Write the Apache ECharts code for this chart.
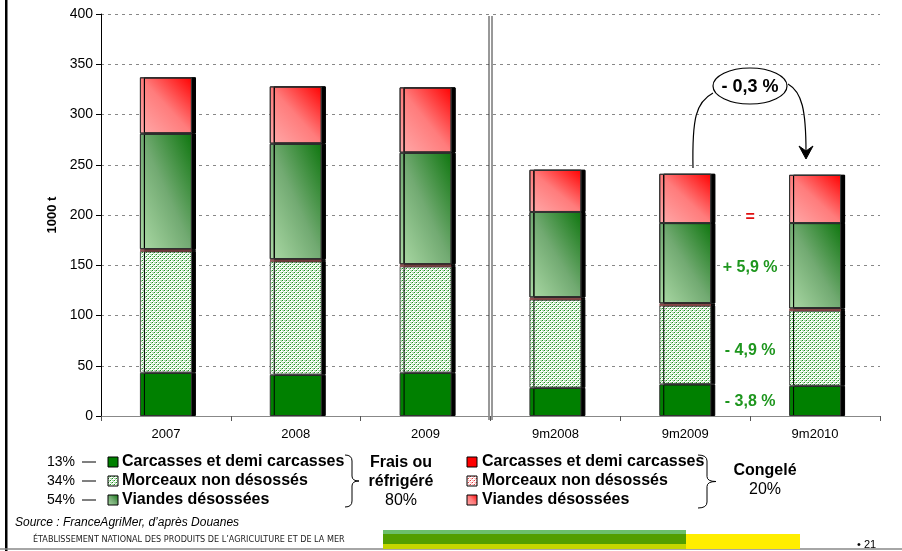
<!DOCTYPE html>
<html><head><meta charset="utf-8">
<script src="https://cdn.jsdelivr.net/npm/echarts@6/dist/echarts.min.js"></script>
<style>html,body{margin:0;padding:0;background:#fff}#c{width:902px;height:551px}</style>
</head><body><div id="c"></div>
<script>
const categories = ['2007','2008','2009','9m2008','9m2009','9m2010'];
const carcFrais  = [43, 41, 43, 28, 31.5, 30];
const morcFrais  = [121, 113, 106, 88, 78.5, 75];
const carcCong   = [0.5, 0.5, 0.5, 0.5, 0.5, 0.5];
const morcCong   = [1.5, 1.5, 1.5, 1.5, 1.5, 1.5];
const viandFrais = [115, 115, 111, 85, 80, 85];
const viandCong  = [56, 57, 65, 42, 49, 48];
const itemNames  = ['Carcasses et demi carcasses','Morceaux non désossés','Viandes désossées'];
const fraisShares = ['13%','34%','54%'];
const groupFrais = ['Frais ou','réfrigéré','80%'];
const groupCong  = ['Congelé','20%'];
const sourceText = 'Source : FranceAgriMer, d\u2019après Douanes';
const footerText = 'ÉTABLISSEMENT NATIONAL DES PRODUITS DE L\u2019AGRICULTURE ET DE LA MER';
const pageNum = '• 21';
const changes = [
  {text:'=', value:197, color:'#e01010'},
  {text:'+ 5,9 %', value:147.5, color:'#1e961e'},
  {text:'- 4,9 %', value:65, color:'#1e961e'},
  {text:'- 3,8 %', value:14.5, color:'#1e961e'}
];
const totalChange = '- 0,3 %';

const FONT = '"Liberation Sans", Arial, sans-serif';

function pattern(bg, light, dark){
  const c = document.createElement('canvas'); c.width = 4; c.height = 4;
  const g = c.getContext('2d');
  g.fillStyle = bg; g.fillRect(0,0,4,4);
  g.fillStyle = light; g.fillRect(0,0,2,1); g.fillRect(2,2,2,1); g.fillRect(1,1,1,1); g.fillRect(3,3,1,1);
  g.fillStyle = dark; g.fillRect(0,2,1,1); g.fillRect(2,0,1,1);
  return c;
}
const greenPat = {image: pattern('#ffffff','#a9d9a9','#1a8f1a'), repeat:'repeat'};
const pinkPat = {image: pattern('#ffffff','#ffc0c0','#e04040'), repeat:'repeat'};
const BAR_W = 52, PX_PER_UNIT = 402/400;
// box-diagonal gradient: light at bottom-left corner, dark at top-right corner,
// isolines parallel to the top-left / bottom-right diagonal
function diagGrad(value, stops){
  const H = Math.max(value*PX_PER_UNIT, 1), W = BAR_W, n2 = H*H + W*W;
  return new echarts.graphic.LinearGradient(0, 1, 2*H*H/n2, 1 - 2*W*W/n2, stops);
}
const greenStops = [{offset:0,color:'#acdaa6'},{offset:0.5,color:'#72aa72'},{offset:1,color:'#0e760e'}];
const redStops = [{offset:0,color:'#ffaaaa'},{offset:0.5,color:'#ff7c7c'},{offset:1,color:'#ff0000'}];
const greenGrad = diagGrad(52, greenStops);
const redGrad = diagGrad(52, redStops);

const colors = {cf:'#008000', mf:greenPat, cc:'#ff0000', mc:pinkPat, vf:greenGrad, vc:redGrad};
function mkSeries(name, data, color, border, stops){
  return {
    name, type:'bar', stack:'t', barWidth:BAR_W,
    data: stops ? data.map(v=>({value:v, itemStyle:{color:diagGrad(v, stops)}})) : data,
    itemStyle:{color, borderColor:border||'#333', borderWidth:1, shadowColor:'#000', shadowOffsetX:4, shadowOffsetY:0, shadowBlur:0},
    emphasis:{disabled:true}, animation:false
  };
}

const chart = echarts.init(document.getElementById('c'));
chart.setOption({
  animation:false,
  grid:{left:101, right:22, top:14, bottom:135},
  xAxis:{type:'category', data:categories,
    axisLine:{lineStyle:{color:'#888', width:1}},
    axisTick:{show:true, length:5, lineStyle:{color:'#555'}},
    axisLabel:{color:'#000', fontSize:13, fontFamily:FONT, margin:12}},
  yAxis:{type:'value', min:0, max:400, interval:50,
    name:'1000 t', nameLocation:'middle', nameGap:40, nameRotate:90,
    nameTextStyle:{fontWeight:'bold', fontSize:13, fontFamily:FONT, color:'#000'},
    axisLine:{show:true, lineStyle:{color:'#000'}},
    axisTick:{show:true, length:5, lineStyle:{color:'#000'}},
    axisLabel:{color:'#000', fontSize:14, fontFamily:FONT, margin:8},
    splitLine:{lineStyle:{color:'#888', type:[3,4]}}},
  series:[
    mkSeries('Frais - '+itemNames[0], carcFrais, colors.cf),
    mkSeries('Frais - '+itemNames[1], morcFrais, colors.mf, '#555'),
    mkSeries('Congelé - '+itemNames[0], carcCong, colors.cc, '#8a4a4a'),
    mkSeries('Congelé - '+itemNames[1], morcCong, colors.mc, '#8a4a4a'),
    mkSeries('Frais - '+itemNames[2], viandFrais, colors.vf, '#333', greenStops),
    mkSeries('Congelé - '+itemNames[2], viandCong, colors.vc, '#333', redStops)
  ]
});

const g = [];
const S = (o)=>Object.assign({fill:null, stroke:'#000', lineWidth:1}, o||{});
g.push({type:'rect', shape:{x:5,y:0,width:2.5,height:551}, style:{fill:'#000'}, silent:true});
g.push({type:'line', shape:{x1:0,y1:549,x2:902,y2:549}, style:{stroke:'#888', lineWidth:1.5}, silent:true});
const p2 = chart.convertToPixel({xAxisIndex:0}, 2), p3 = chart.convertToPixel({xAxisIndex:0}, 3);
const sx = (p2+p3)/2;
const yTop = chart.convertToPixel({yAxisIndex:0}, 400), yBot = chart.convertToPixel({yAxisIndex:0}, 0);
g.push({type:'line', shape:{x1:sx-1.5,y1:yTop+2,x2:sx-1.5,y2:yBot+4}, style:{stroke:'#333', lineWidth:1}, silent:true});
g.push({type:'line', shape:{x1:sx+1.5,y1:yTop+2,x2:sx+1.5,y2:yBot+4}, style:{stroke:'#333', lineWidth:1}, silent:true});
const p4 = chart.convertToPixel({xAxisIndex:0}, 4), p5 = chart.convertToPixel({xAxisIndex:0}, 5);
const cx = (p4+p5)/2;
changes.forEach(c=>{
  g.push({type:'text', x:cx, y:chart.convertToPixel({yAxisIndex:0}, c.value),
    style:{text:c.text, fill:c.color, font:'bold 16px '+FONT, align:'center', verticalAlign:'middle', backgroundColor:'#fff', padding:[0,2]}, silent:true});
});
g.push({type:'ellipse', shape:{cx:750, cy:86, rx:37, ry:18}, style:{fill:'#fff', stroke:'#000', lineWidth:1.2}});
g.push({type:'text', x:750, y:87, style:{text:totalChange, fill:'#000', font:'bold 18px '+FONT, align:'center', verticalAlign:'middle'}});
g.push({type:'bezierCurve', shape:{x1:693,y1:168,cpx1:692,cpy1:118,cpx2:696,cpy2:102,x2:713,y2:93}, style:S({lineWidth:1.2})});
g.push({type:'bezierCurve', shape:{x1:788,y1:84,cpx1:802,cpy1:92,cpx2:806,cpy2:110,x2:806,y2:152}, style:S({lineWidth:1.2})});
g.push({type:'polygon', shape:{points:[[799,146],[806,159],[813,146],[806,151]]}, style:{fill:'#000', stroke:'#000', lineWidth:1}});
const rowsY = [462, 481, 500];
const leftCols = [colors.cf, colors.mf, colors.vf];
const rightCols = [colors.cc, colors.mc, colors.vc];
rowsY.forEach((y,i)=>{
  g.push({type:'text', x:75, y:y, style:{text:fraisShares[i], fill:'#000', font:'14px '+FONT, align:'right', verticalAlign:'middle'}});
  g.push({type:'line', shape:{x1:82,y1:y,x2:96,y2:y}, style:{stroke:'#000', lineWidth:1}});
  g.push({type:'rect', shape:{x:108,y:y-5,width:10,height:10}, style:{fill:leftCols[i], stroke:'#000', lineWidth:1}});
  g.push({type:'text', x:122, y:y, style:{text:itemNames[i], fill:'#000', font:'bold 16px '+FONT, align:'left', verticalAlign:'middle'}});
  g.push({type:'rect', shape:{x:467,y:y-5,width:10,height:10}, style:{fill:rightCols[i], stroke:'#000', lineWidth:1}});
  g.push({type:'text', x:482, y:y, style:{text:itemNames[i], fill:'#000', font:'bold 16px '+FONT, align:'left', verticalAlign:'middle'}});
});
function brace(x, y0, y1, w){
  const ym = (y0+y1)/2, xm = x+w/2, st = S();
  return [
    {type:'bezierCurve', shape:{x1:x,y1:y0,cpx1:xm,cpy1:y0,x2:xm,y2:y0+6}, style:st},
    {type:'line', shape:{x1:xm,y1:y0+6,x2:xm,y2:ym-5}, style:st},
    {type:'bezierCurve', shape:{x1:xm,y1:ym-5,cpx1:xm,cpy1:ym,x2:x+w,y2:ym}, style:st},
    {type:'bezierCurve', shape:{x1:x+w,y1:ym,cpx1:xm,cpy1:ym,x2:xm,y2:ym+5}, style:st},
    {type:'line', shape:{x1:xm,y1:ym+5,x2:xm,y2:y1-6}, style:st},
    {type:'bezierCurve', shape:{x1:xm,y1:y1-6,cpx1:xm,cpy1:y1,x2:x,y2:y1}, style:st}
  ];
}
g.push(...brace(345,455,507,14));
g.push(...brace(698,455,508,18));
g.push({type:'text', x:401, y:463, style:{text:groupFrais[0], fill:'#000', font:'bold 16px '+FONT, align:'center', verticalAlign:'middle'}});
g.push({type:'text', x:401, y:482, style:{text:groupFrais[1], fill:'#000', font:'bold 16px '+FONT, align:'center', verticalAlign:'middle'}});
g.push({type:'text', x:401, y:501, style:{text:groupFrais[2], fill:'#000', font:'16px '+FONT, align:'center', verticalAlign:'middle'}});
g.push({type:'text', x:765, y:471, style:{text:groupCong[0], fill:'#000', font:'bold 16px '+FONT, align:'center', verticalAlign:'middle'}});
g.push({type:'text', x:765, y:490, style:{text:groupCong[1], fill:'#000', font:'16px '+FONT, align:'center', verticalAlign:'middle'}});
g.push({type:'text', x:15, y:523, style:{text:sourceText, fill:'#000', font:'italic 12px '+FONT, align:'left', verticalAlign:'middle'}});
g.push({type:'text', x:33, y:540, style:{text:footerText, fill:'#222', font:'9px "DejaVu Sans Condensed", "Liberation Sans Narrow", sans-serif', align:'left', verticalAlign:'middle'}});
g.push({type:'rect', shape:{x:383,y:530,width:303,height:4}, style:{fill:'#6cbf6c'}});
g.push({type:'rect', shape:{x:383,y:534,width:303,height:10}, style:{fill:'#529e00'}});
g.push({type:'rect', shape:{x:383,y:544,width:303,height:5}, style:{fill:'#c4d600'}});
g.push({type:'rect', shape:{x:686,y:534,width:114,height:15}, style:{fill:'#ffee00'}});
g.push({type:'text', x:857, y:545, style:{text:pageNum, fill:'#000', font:'11px '+FONT, align:'left', verticalAlign:'middle'}});
chart.setOption({graphic:{elements:g}});
</script></body></html>
